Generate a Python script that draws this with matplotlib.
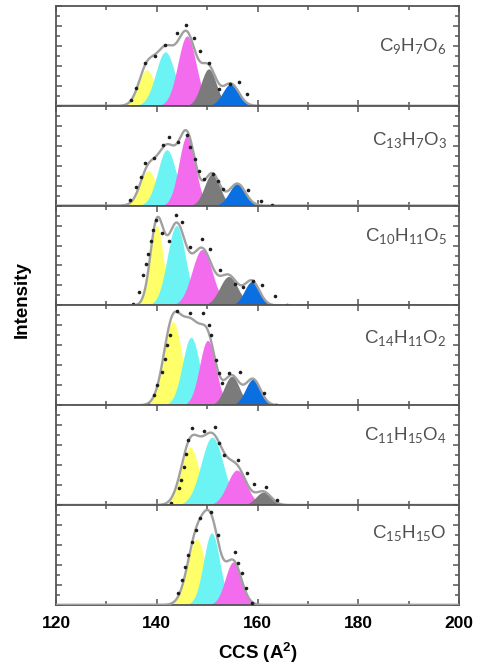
import numpy as np
import matplotlib
matplotlib.use('Agg')
from matplotlib import pyplot as plt
from matplotlib.ticker import MultipleLocator

plt.rcParams['font.family'] = ['Liberation Sans', 'DejaVu Sans']
plt.rcParams['mathtext.fontset'] = 'custom'
plt.rcParams['mathtext.rm'] = 'Lato'
plt.rcParams['mathtext.it'] = 'Lato'
plt.rcParams['mathtext.bf'] = 'Liberation Sans:bold'

# ions, top to bottom
ions = ['C$_9$H$_7$O$_6$', 'C$_{13}$H$_7$O$_3$', 'C$_{10}$H$_{11}$O$_5$',
        'C$_{14}$H$_{11}$O$_2$', 'C$_{11}$H$_{15}$O$_4$', 'C$_{15}$H$_{15}$O']

# fitted conformer peaks: centre (A^2), height, width
centres = [[138.0, 141.7, 146.0, 150.3, 154.7],
           [138.3, 142.0, 146.0, 151.0, 156.0],
           [140.0, 143.9, 149.0, 154.3, 158.9],
           [143.2, 146.8, 150.1, 154.9, 159.1],
           [146.6, 151.0, 155.9, 161.2],
           [147.9, 150.9, 155.2]]
heights = [[0.36, 0.54, 0.70, 0.37, 0.22],
           [0.35, 0.56, 0.70, 0.32, 0.22],
           [0.80, 0.80, 0.56, 0.29, 0.24],
           [0.84, 0.68, 0.65, 0.29, 0.26],
           [0.58, 0.68, 0.35, 0.13],
           [0.66, 0.72, 0.43]]
widths = [[1.6, 1.9, 1.8, 1.5, 1.6],
          [1.6, 1.8, 1.6, 1.5, 1.6],
          [1.3, 1.8, 2.0, 1.8, 1.5],
          [1.8, 1.7, 1.6, 1.5, 1.5],
          [1.8, 2.2, 1.9, 1.5],
          [1.8, 1.6, 1.6]]

# measured arrival time distributions (points)
ccs_pts = [[134.9, 135.9, 137.7, 139.7, 141.7, 144.0, 145.8, 147.3, 148.6, 150.3, 152.3, 154.6, 156.4, 158.0, 160.0],
           [134.7, 135.9, 136.8, 137.6, 139.5, 141.2, 142.5, 144.3, 146.0, 146.6, 147.5, 148.3, 149.3, 151.2, 152.1, 153.1, 158.2, 160.6, 162.9],
           [135.2, 136.4, 137.2, 137.8, 138.2, 138.8, 139.2, 139.9, 141.0, 142.5, 143.9, 145.0, 146.6, 149.0, 150.6, 152.6, 155.6, 157.2, 159.2, 160.9, 163.5, 165.9],
           [138.4, 139.5, 140.1, 141.0, 141.7, 142.0, 142.7, 144.0, 146.6, 149.2, 150.3, 150.8, 151.8, 152.3, 152.9, 154.3, 156.6, 161.2, 163.7],
           [142.8, 144.5, 144.8, 145.5, 145.8, 146.3, 147.0, 149.3, 151.5, 152.3, 153.3, 156.2, 157.9, 159.4, 161.6, 163.9],
           [144.3, 145.0, 145.6, 146.3, 147.0, 147.8, 148.6, 150.8, 152.1, 155.6, 156.2, 156.9, 157.8, 158.9]]
int_pts = [[0.06, 0.18, 0.43, 0.50, 0.61, 0.73, 0.81, 0.68, 0.55, 0.43, 0.17, 0.22, 0.24, 0.12, 0.0],
           [0.06, 0.19, 0.29, 0.43, 0.48, 0.61, 0.69, 0.64, 0.71, 0.59, 0.47, 0.35, 0.27, 0.32, 0.25, 0.17, 0.16, 0.05, 0.01],
           [0.01, 0.13, 0.30, 0.41, 0.52, 0.65, 0.76, 0.86, 0.73, 0.65, 0.91, 0.84, 0.59, 0.67, 0.57, 0.35, 0.21, 0.18, 0.24, 0.20, 0.09, 0.0],
           [0.0, 0.10, 0.20, 0.33, 0.46, 0.60, 0.70, 0.94, 0.92, 0.92, 0.80, 0.70, 0.45, 0.32, 0.22, 0.32, 0.33, 0.12, 0.0],
           [0.02, 0.17, 0.25, 0.38, 0.51, 0.65, 0.77, 0.74, 0.78, 0.62, 0.50, 0.45, 0.32, 0.21, 0.18, 0.05],
           [0.12, 0.25, 0.38, 0.50, 0.63, 0.75, 0.87, 0.93, 0.70, 0.53, 0.42, 0.32, 0.17, 0.02]]

colours = ['#ffff6a', '#6cf3f3', '#f46cee', '#7b7b7b', '#0a70e2']
label_y = [0.60, 0.66, 0.70, 0.67, 0.70, 0.72]

x = np.linspace(120, 200, 1601)


def gauss(x, c, h, w):
    return h * np.exp(-(x - c) ** 2 / (2 * w ** 2))


fig = plt.figure(figsize=(4.79, 6.69), dpi=100)
W, H = 479., 669.
left, right, top, panel_h = 56., 459., 6., 99.8

axes = []
for i in range(6):
    y0 = H - (top + panel_h * (i + 1))
    ax = fig.add_axes([left / W, y0 / H, (right - left) / W, panel_h / H])
    axes.append(ax)

    total = np.zeros_like(x)
    for c, h, w, col in zip(centres[i], heights[i], widths[i], colours):
        g = gauss(x, c, h, w)
        total += g
        ax.fill_between(x, 0, g, where=g > 1e-3, color=col, lw=0, zorder=2)
    ax.plot(x, total, color='#a0a0a0', lw=1.7, zorder=3)
    ax.plot(ccs_pts[i], int_pts[i], 'o', color='#1e1e1e', ms=2.6, mew=0, zorder=4)

    ax.text(0.97, label_y[i], ions[i], transform=ax.transAxes, ha='right', va='center',
            fontsize=13.5, color='#505050')

    ax.set_xlim(120, 200)
    ax.set_ylim(0, 1)
    ax.xaxis.set_major_locator(MultipleLocator(20))
    ax.xaxis.set_minor_locator(MultipleLocator(10))
    ax.yaxis.set_major_locator(MultipleLocator(0.2))
    ax.yaxis.set_minor_locator(MultipleLocator(0.1))
    ax.tick_params(which='both', direction='in', top=True, right=True, color='#555555',
                   width=1.1, labelleft=False, labelbottom=(i == 5))
    ax.tick_params(which='major', length=4.5)
    ax.tick_params(which='minor', length=3)
    for s in ax.spines.values():
        s.set_color('#555555')
        s.set_linewidth(1.3)

axes[-1].tick_params(axis='x', labelsize=12.5, pad=8)
for lab in axes[-1].get_xticklabels():
    lab.set_fontweight('bold')
axes[-1].set_xlabel(r'CCS (A$^\mathbf{2}$)', fontsize=13.5, fontweight='bold', labelpad=7)
fig.text(22 / W, 1 - 300 / H, 'Intensity', rotation=90, ha='center', va='center',
         fontsize=13.5, fontweight='bold')

fig.savefig('out.png', dpi=100)
